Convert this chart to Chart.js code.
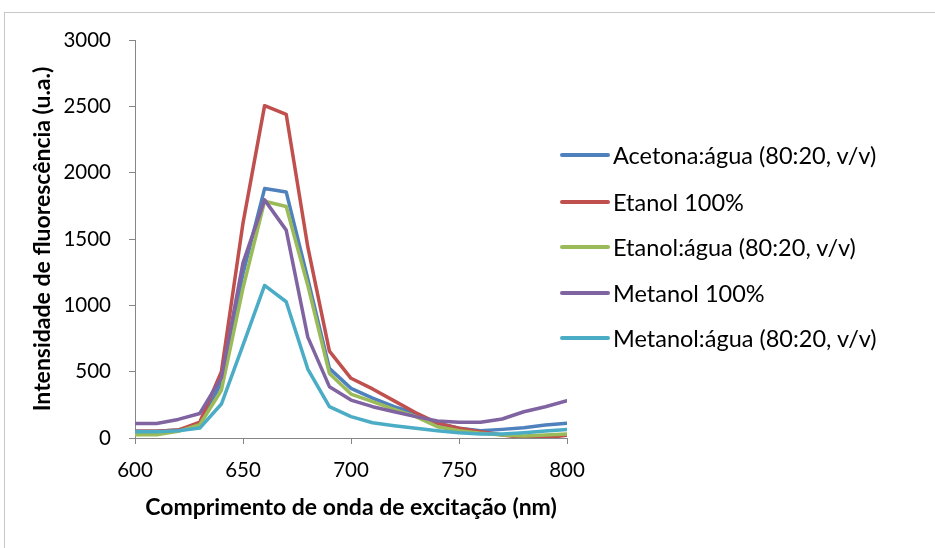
<!DOCTYPE html>
<html>
<head>
<meta charset="utf-8">
<script src="https://cdn.jsdelivr.net/npm/chart.js@4.4.1/dist/chart.umd.min.js"></script>
<style>
  html, body { margin: 0; padding: 0; background: #fff; overflow: hidden; }
  #wrap { position: relative; width: 935px; height: 548px; }
  #frame { position: absolute; left: 4px; top: 12px; width: 940px; height: 545px; border: 1px solid #c8c8c8; box-sizing: border-box; }
  canvas { position: absolute; left: 0; top: 0; }
  #legend { position: absolute; left: 560px; top: 0; font-family: Lato, "Open Sans", sans-serif; font-size: 23.5px; color: #000; }
  .item { position: absolute; left: 0; white-space: nowrap; display: flex; align-items: center; height: 30px; }
  .swatch { width: 50px; height: 4px; border-radius: 2px; margin-right: 3px; }
</style>
</head>
<body>
<div id="wrap">
  <div id="frame"></div>
  <canvas id="c" width="935" height="548"></canvas>
  <div id="legend"></div>
</div>
<script>
const wavelengths = [600,610,620,630,640,650,660,670,680,690,700,710,720,730,740,750,760,770,780,790,800];
const seriesNames = ["Acetona:água (80:20, v/v)", "Etanol 100%", "Etanol:água (80:20, v/v)", "Metanol 100%", "Metanol:água (80:20, v/v)"];
const acetonaAgua = [50,50,60,100,420,1240,1880,1855,1200,525,374,300,236,186,111,73,55,65,78,98,111];
const etanol100 = [50,50,60,120,500,1620,2505,2440,1440,655,450,370,280,190,112,73,48,23,3,3,20];
const etanolAgua = [25,25,50,100,360,1130,1785,1745,1150,487,331,274,216,161,85,55,35,23,15,23,30];
const metanol100 = [110,110,140,185,455,1320,1795,1567,760,387,286,236,198,161,128,118,118,143,198,236,281];
const metanolAgua = [48,48,55,75,256,700,1150,1027,520,236,161,115,93,73,55,40,30,30,40,53,65];
const colors = ["#4F81BD", "#C0504D", "#9BBB59", "#8064A2", "#4BACC6"];
const xTicks = [600, 650, 700, 750, 800];
const yTicks = [0, 500, 1000, 1500, 2000, 2500, 3000];

const allSeries = [acetonaAgua, etanol100, etanolAgua, metanol100, metanolAgua];
const datasets = allSeries.map((vals, i) => ({
  label: seriesNames[i],
  data: vals.map((v, j) => ({x: wavelengths[j], y: v})),
  borderColor: colors[i],
  backgroundColor: colors[i],
  borderWidth: 3.5,
  pointRadius: 0,
  tension: 0,
  borderJoinStyle: 'round',
  borderCapStyle: 'round',
  fill: false,
  order: allSeries.length - i
}));

const tickFont = { family: "Lato, 'Open Sans', sans-serif", size: 20.5 };
const titleFont = { family: "Lato, 'Open Sans', sans-serif", size: 23, weight: 'bold' };

new Chart(document.getElementById('c'), {
  type: 'line',
  data: { datasets },
  options: {
    responsive: false,
    animation: false,
    events: [],
    layout: { padding: { left: 0, top: 40, right: 368, bottom: 0 } },
    plugins: { legend: { display: false }, tooltip: { enabled: false } },
    scales: {
      x: {
        type: 'linear',
        min: 600, max: 800,
        afterBuildTicks: s => { s.ticks = xTicks.map(v => ({value: v})); },
        afterFit: s => { s.height = 110; },
        grid: { drawOnChartArea: false, drawTicks: true, tickLength: 6, color: '#868686', lineWidth: 1 },
        border: { display: true, color: '#868686', width: 1 },
        ticks: { font: tickFont, color: '#000', padding: 14, maxRotation: 0, callback: v => String(v) },
        title: { display: true, text: 'Comprimento de onda de excitação (nm)', font: titleFont, color: '#000', padding: { top: 0, bottom: 27 } }
      },
      y: {
        type: 'linear',
        min: 0, max: 3000,
        afterBuildTicks: s => { s.ticks = yTicks.map(v => ({value: v})); },
        afterFit: s => { s.width = 135; },
        grid: { drawOnChartArea: false, drawTicks: true, tickLength: 6, color: '#868686', lineWidth: 1 },
        border: { display: true, color: '#868686', width: 1 },
        ticks: { font: tickFont, color: '#000', padding: 18, callback: v => String(v) },
        title: { display: true, text: 'Intensidade de fluorescência (u.a.)', font: titleFont, color: '#000', padding: { top: 29, bottom: 0 } }
      }
    }
  }
});

const legend = document.getElementById('legend');
const legendTops = [155, 201.5, 247, 292.5, 338];
seriesNames.forEach((name, i) => {
  const it = document.createElement('div');
  it.className = 'item';
  it.style.top = (legendTops[i] - 15) + 'px';
  const sw = document.createElement('div');
  sw.className = 'swatch';
  sw.style.background = colors[i];
  const tx = document.createElement('span');
  tx.textContent = name;
  it.appendChild(sw); it.appendChild(tx);
  legend.appendChild(it);
});
</script>
</body>
</html>
